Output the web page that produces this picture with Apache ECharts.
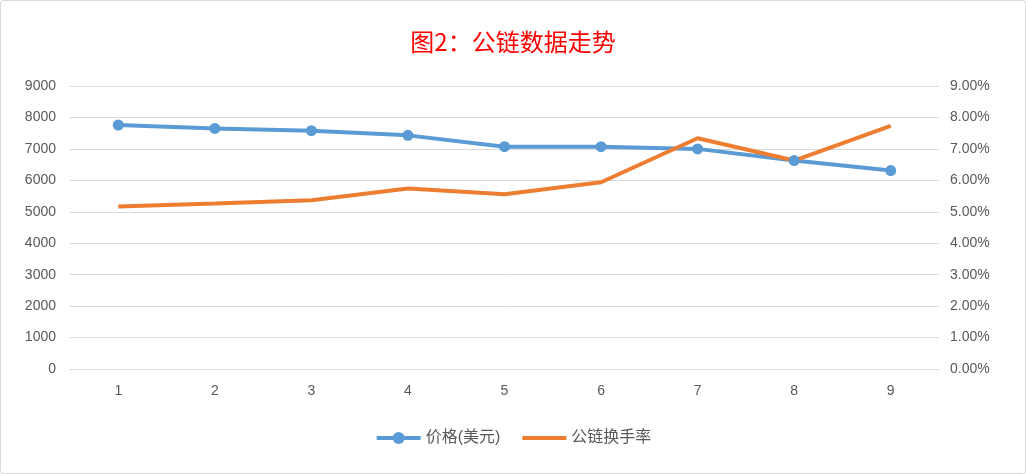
<!DOCTYPE html>
<html><head><meta charset="utf-8">
<script src="https://cdn.jsdelivr.net/npm/echarts@6/dist/echarts.min.js"></script>
<style>
html,body{margin:0;padding:0;background:#fff;}
#c{width:1026px;height:474px;box-sizing:border-box;border:1px solid #d9d9d9;border-radius:3px;}
</style></head>
<body><div id="c"></div>
<script>
const categories = ['1','2','3','4','5','6','7','8','9'];
const price = [7760, 7650, 7580, 7430, 7070, 7070, 7000, 6630, 6310];
const turnover = [0.0517, 0.0526, 0.0537, 0.0574, 0.0556, 0.0594, 0.0734, 0.0663, 0.0773];
const titleText = '图2：公链数据走势';
const seriesNames = ['价格(美元)', '公链换手率'];

const font = "'Liberation Sans','Noto Sans CJK SC',sans-serif";
const chart = echarts.init(document.getElementById('c'), null, {renderer:'canvas'});
chart.setOption({
  animation:false,
  textStyle:{fontFamily:font},
  title:{text:titleText,left:'center',top:24,textStyle:{color:'#ff0000',fontSize:24,fontWeight:'normal',fontFamily:"'Noto Sans CJK SC',sans-serif"}},
  legend:{bottom:22,left:'center',itemWidth:44,itemHeight:15,itemGap:22,
    lineStyle:{width:4},
    textStyle:{color:'#595959',fontSize:16,fontFamily:font},
    data:[{name:seriesNames[0]},{name:seriesNames[1],icon:'path://M0 0H45V4H0Z'}]},
  grid:{left:69,right:86,top:85,bottom:104},
  xAxis:{type:'category',data:categories,boundaryGap:true,
    axisLine:{lineStyle:{color:'#d9d9d9',width:1}},axisTick:{show:false},
    axisLabel:{color:'#595959',fontSize:14,margin:15}},
  yAxis:[
    {type:'value',min:0,max:9000,interval:1000,
      axisLine:{show:false},axisTick:{show:false},
      axisLabel:{color:'#595959',fontSize:14,margin:14,formatter:v=>String(v)},
      splitLine:{lineStyle:{color:'#d9d9d9',width:1}}},
    {type:'value',min:0,max:0.09,interval:0.01,
      axisLine:{show:false},axisTick:{show:false},
      axisLabel:{color:'#595959',fontSize:14,margin:11,formatter:v=>(v*100).toFixed(2)+'%'},
      splitLine:{show:false}}
  ],
  series:[
    {name:seriesNames[0],type:'line',data:price,yAxisIndex:0,
      symbol:'circle',symbolSize:11,
      lineStyle:{color:'#5B9BD5',width:4},itemStyle:{color:'#5B9BD5'}},
    {name:seriesNames[1],type:'line',data:turnover,yAxisIndex:1,
      symbol:'none',
      lineStyle:{color:'#ED7D31',width:4},itemStyle:{color:'#ED7D31'}}
  ]
});
</script></body></html>
